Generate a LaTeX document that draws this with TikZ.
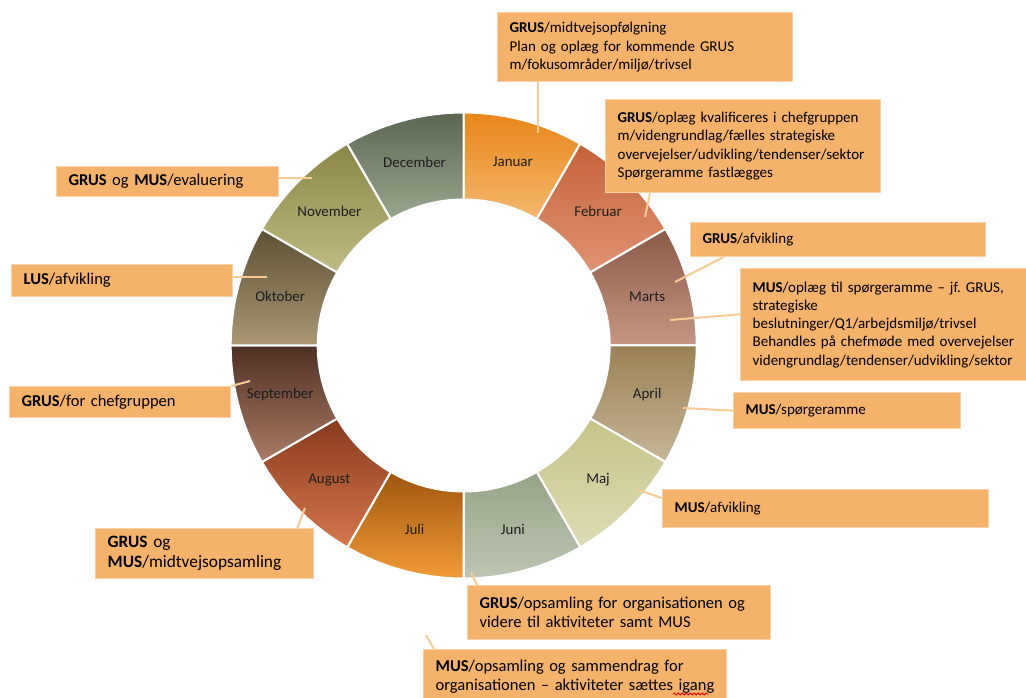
\documentclass[tikz,border=0pt]{standalone}
\usepackage{fontspec}
\setmainfont{Carlito}
\usetikzlibrary{calc,decorations.pathmorphing}
\definecolor{boxfill}{HTML}{F4B26B}
\definecolor{boxline}{HTML}{F8D2A4}
\definecolor{leadc}{HTML}{F8CB96}
\definecolor{txt}{HTML}{1E1E1E}
\definecolor{janT}{HTML}{E8861A}\definecolor{janB}{HTML}{F4B76E}
\definecolor{febT}{HTML}{C4623A}\definecolor{febB}{HTML}{E09474}
\definecolor{marT}{HTML}{8B5A47}\definecolor{marB}{HTML}{C59783}
\definecolor{aprT}{HTML}{9A8055}\definecolor{aprB}{HTML}{C5B699}
\definecolor{majT}{HTML}{C7C48A}\definecolor{majB}{HTML}{DDDBB5}
\definecolor{junT}{HTML}{96A487}\definecolor{junB}{HTML}{BEC5B4}
\definecolor{julT}{HTML}{9E560E}\definecolor{julB}{HTML}{F29C38}
\definecolor{augT}{HTML}{883A1E}\definecolor{augB}{HTML}{D5784E}
\definecolor{sepT}{HTML}{4E3024}\definecolor{sepB}{HTML}{AB7B66}
\definecolor{oktT}{HTML}{5D5034}\definecolor{oktB}{HTML}{AA9875}
\definecolor{novT}{HTML}{8A8747}\definecolor{novB}{HTML}{BFBB84}
\definecolor{decT}{HTML}{5B6650}\definecolor{decB}{HTML}{9AA78F}
\tikzset{
  callout/.style={draw=boxline, fill=boxfill, line width=1pt, inner xsep=9pt, inner ysep=0pt,
    anchor=north west, align=left, text=black, font=\frenchspacing\fontsize{11.25}{13.7}\selectfont},
  bigtext/.style={font=\frenchspacing\fontsize{12.4}{14.25}\selectfont},
  leader/.style={draw=leadc, line width=1.5pt},
  month/.style={text=txt, font=\fontsize{11.2}{13}\selectfont}
}
\begin{document}
\frenchspacing
\begin{tikzpicture}[x=0.75pt,y=-0.75pt]
\useasboundingbox (0,0) rectangle (1026,698);
\clip (0,0) rectangle (1026,698);
\fill[white] (0,0) rectangle (1026,698);
% donut
\begin{scope}[shift={(463.7,345.5)}]
\foreach \i/\name/\tc/\bc in {0/Januar/janT/janB,1/Februar/febT/febB,2/Marts/marT/marB,3/April/aprT/aprB,
  4/Maj/majT/majB,5/Juni/junT/junB,6/Juli/julT/julB,7/August/augT/augB,8/September/sepT/sepB,
  9/Oktober/oktT/oktB,10/November/novT/novB,11/December/decT/decB}{
  \pgfmathsetmacro\a{90-30*\i}
  \pgfmathsetmacro\b{60-30*\i}
  \pgfmathsetmacro\m{75-30*\i}
  \path[top color=\tc, bottom color=\bc, draw=white, line width=1.5pt]
    (\a:174.75pt) arc[start angle=\a, end angle=\b, radius=174.75pt]
    -- (\b:109.5pt) arc[start angle=\b, end angle=\a, radius=109.5pt] -- cycle;
  \node[month] (m\i) at (\m:142.5pt) {\name};
}
\end{scope}
% callout boxes
\node[callout, minimum width=221.25pt, minimum height=51.75pt, text width=203.25pt] (jan) at (497,12)
  {\textbf{GRUS}/midtvejsopfølgning\\Plan og oplæg for kommende GRUS\\m/fokusområder/miljø/trivsel};
\node[callout, minimum width=206.25pt, minimum height=69.75pt, text width=188.25pt] (feb) at (605,99)
  {\textbf{GRUS}/oplæg kvalificeres i chefgruppen\\m/videngrundlag/fælles strategiske\\overvejelser/udvikling/tendenser/sektor\\Spørgeramme fastlægges};
\node[callout, minimum width=221.25pt, minimum height=25.5pt, text width=203.25pt] (margrus) at (690,222)
  {\textbf{GRUS}/afvikling};
\node[callout, minimum width=217.5pt, minimum height=84pt, text width=199.5pt] (marmus) at (740,268)
  {\textbf{MUS}/oplæg til spørgeramme – jf. GRUS,\\strategiske\\beslutninger/Q1/arbejdsmiljø/trivsel\\Behandles på chefmøde med overvejelser\\videngrundlag/tendenser/udvikling/sektor};
\node[callout, minimum width=170.25pt, minimum height=27pt, text width=152.25pt] (apr) at (733,392)
  {\textbf{MUS}/spørgeramme};
\node[callout, minimum width=244.5pt, minimum height=28.5pt, text width=226.5pt] (maj) at (662,489)
  {\textbf{MUS}/afvikling};
\node[callout, bigtext, minimum width=227.25pt, minimum height=40.5pt, text width=209.25pt] (jungrus) at (467,585)
  {\textbf{GRUS}/opsamling for organisationen og\\videre til aktiviteter samt MUS};
\node[callout, bigtext, minimum width=227.25pt, minimum height=40.5pt, text width=209.25pt] (junmus) at (423,649)
  {\textbf{MUS}/opsamling og sammendrag for\\organisationen – aktiviteter sættes igang};
\node[callout, font=\frenchspacing\fontsize{13}{15}\selectfont, minimum width=163.5pt, minimum height=37.5pt, text width=145.5pt] (aug) at (95,528)
  {\textbf{GRUS} og\\\textbf{MUS}/midtvejsopsamling};
\node[callout, bigtext, minimum width=165.75pt, minimum height=23.25pt, text width=147.75pt] (sep) at (9,386)
  {\textbf{GRUS}/for chefgruppen};
\node[callout, bigtext, minimum width=165.75pt, minimum height=24pt, text width=147.75pt] (okt) at (11,264)
  {\textbf{LUS}/afvikling};
\node[callout, bigtext, minimum width=166.5pt, minimum height=22.5pt, text width=148.5pt] (nov) at (56,166)
  {\textbf{GRUS} og \textbf{MUS}/evaluering};
% leader end points
\coordinate (pjan) at (538,133);
\coordinate (pfeb) at (645,217);
\coordinate (pmarg) at (675,282);
\coordinate (pmarm) at (670,320);
\coordinate (papr) at (683,408);
\coordinate (pmaj) at (638,490);
\coordinate (pjun) at (471,572);
\coordinate (pfree) at (426,635);
\coordinate (paug) at (305,508);
\coordinate (psep) at (250,381);
\coordinate (pokt) at (267,277);
\coordinate (pnov) at (312,178);
% leaders
\draw[leader] (pjan) -- (pjan |- jan.south);
\draw[leader] (pfeb) -- ($(feb.south west)+(45,0)$);
\draw[leader] (pmarg) -- ($(margrus.south west)+(33,0)$);
\draw[leader] (pmarm) -- ($(marmus.south west)+(0,-67)$);
\draw[leader] (papr) -- (apr.west);
\draw[leader] (pmaj) -- ($(maj.north west)+(0,9)$);
\draw[leader] (pjun) -- ($(jungrus.north west)+(10,0)$);
\draw[leader] (pfree) -- ($(junmus.north west)+(11,0)$);
\draw[leader] (paug) -- ($(aug.north east)+(-17,0)$);
\draw[leader] (psep) -- (sep.north east);
\draw[leader] (pokt) -- (pokt -| okt.east);
\draw[leader] (pnov) -- (pnov -| nov.east);
% spell-check squiggle
\draw[red, line width=0.6pt, decorate, decoration={snake, amplitude=0.8pt, segment length=3pt}] (673,694) -- (708,694);
\end{tikzpicture}
\end{document}
